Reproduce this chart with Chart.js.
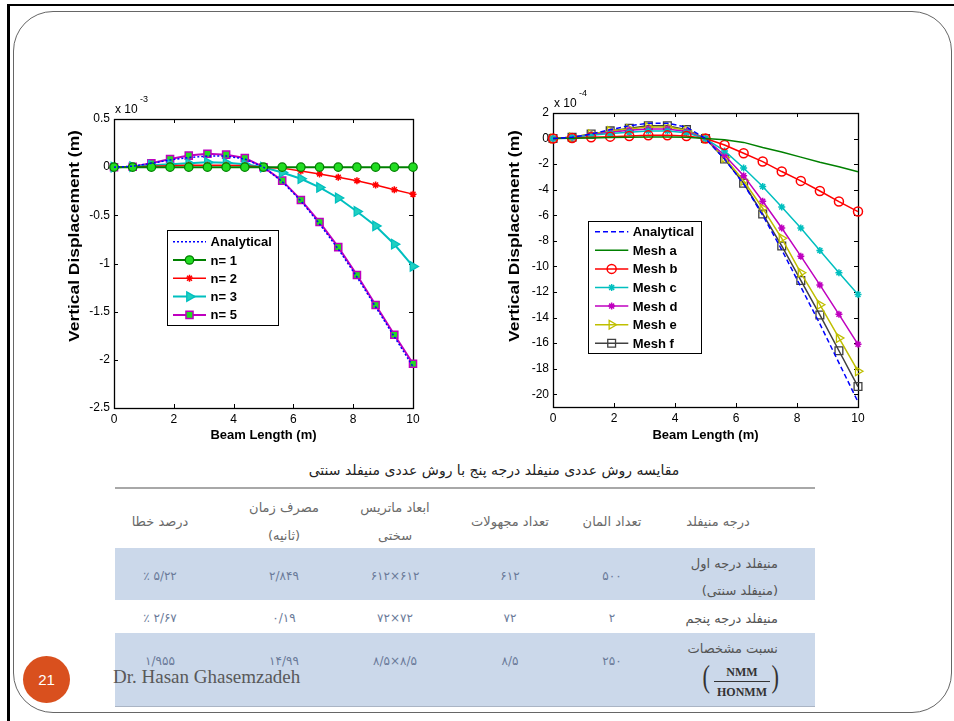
<!DOCTYPE html>
<html><head><meta charset="utf-8">
<script src="https://cdn.jsdelivr.net/npm/chart.js@4.4.1/dist/chart.umd.min.js"></script>
<style>
html,body{margin:0;padding:0;background:#fff;width:954px;height:721px;overflow:hidden;position:relative;font-family:'Liberation Sans',Arial,sans-serif;}
#frameL{position:absolute;left:7px;top:4px;width:3px;height:717px;background:#000;}
#frameT{position:absolute;left:7px;top:4px;width:947px;height:2px;background:#000;}
#slide{position:absolute;left:13px;top:11px;width:937px;height:700px;border:1px solid #666;border-radius:40px;}
canvas{position:absolute;}
#cL{left:55px;top:90px;}
#cR{left:495px;top:85px;}
.fa{position:absolute;font-family:'DejaVu Sans',sans-serif;white-space:nowrap;}
.band{position:absolute;left:115px;width:700px;background:#cbd8ea;}
#tline{position:absolute;left:115px;top:487px;width:700px;height:2px;background:#a8a8a8;}
#pg{position:absolute;left:23px;top:656px;width:47px;height:47px;border-radius:50%;background:#d9501e;color:#fff;font:15px 'Liberation Sans',Arial,sans-serif;text-align:center;line-height:47px;z-index:5;}
#auth{position:absolute;left:113px;top:667px;font:19px 'Liberation Serif','Times New Roman',serif;line-height:19px;color:#595959;z-index:5;white-space:nowrap;}
#frac{position:absolute;left:700px;top:662px;width:80px;height:40px;font-family:'Liberation Serif',serif;color:#333;}
</style></head>
<body>
<div id="frameL"></div><div id="frameT"></div><div id="slide"></div>
<canvas id="cL" width="375" height="360"></canvas>
<canvas id="cR" width="380" height="365"></canvas>
<div id="tline"></div>
<div class="band" style="top:548px;height:52px;"></div>
<div class="band" style="top:633px;height:73px;border-bottom:1px solid #aab4c4;"></div>
<div id="tbl"></div>
<div id="frac">
  <span style="position:absolute;left:1px;top:-4px;font-size:32px;font-weight:normal;transform:scaleX(0.7);">(</span>
  <span style="position:absolute;left:14px;top:3px;width:56px;text-align:center;font-size:12px;font-weight:bold;">NMM</span>
  <span style="position:absolute;left:14px;top:19px;width:56px;height:1px;background:#333;"></span>
  <span style="position:absolute;left:14px;top:23px;width:56px;text-align:center;font-size:12px;font-weight:bold;">HONMM</span>
  <span style="position:absolute;left:70px;top:-4px;font-size:32px;font-weight:normal;transform:scaleX(0.7);">)</span>
</div>
<div id="pg">21</div>
<div id="auth">Dr. Hasan Ghasemzadeh</div>
<script>
// ---------------- data ----------------
const beamX = [0,0.625,1.25,1.875,2.5,3.125,3.75,4.375,5,5.625,6.25,6.875,7.5,8.125,8.75,9.375,10];
const xTickValues = [0,2,4,6,8,10];

// left chart (x 10^-3 m)
const leftYTicks = [0.5,0,-0.5,-1,-1.5,-2,-2.5];
const leftAnalytical = [0,0.01,0.04,0.075,0.10,0.115,0.115,0.085,0,-0.15,-0.35,-0.59,-0.85,-1.14,-1.45,-1.76,-2.07];
const leftN1 = [0,0,0,0,0,0,0,0,0,0,0,0,0,0,0,0,0];
const leftN2 = [0,0.003,0.01,0.015,0.02,0.02,0.02,0.015,0,-0.01,-0.04,-0.07,-0.105,-0.14,-0.185,-0.235,-0.28];
const leftN3 = [0,0.005,0.02,0.03,0.04,0.05,0.045,0.03,0,-0.055,-0.12,-0.21,-0.32,-0.46,-0.61,-0.80,-1.03];
const leftN5 = [0,0.005,0.04,0.085,0.12,0.14,0.13,0.095,0,-0.14,-0.34,-0.57,-0.83,-1.12,-1.43,-1.74,-2.04];

// right chart (x 10^-4 m)
const rightYTicks = [2,0,-2,-4,-6,-8,-10,-12,-14,-16,-18,-20];
const rightAnalytical = [0,0.1,0.35,0.7,1.0,1.2,1.2,0.9,0,-1.6,-3.55,-6.0,-8.7,-11.6,-14.5,-17.55,-20.6];
const meshA = [0,0.02,0.05,0.08,0.1,0.12,0.12,0.1,0,-0.1,-0.3,-0.7,-1.05,-1.45,-1.85,-2.2,-2.6];
const meshB = [0,0.05,0.1,0.15,0.2,0.25,0.25,0.2,0,-0.5,-1.15,-1.8,-2.58,-3.31,-4.1,-4.93,-5.71];
const meshC = [0,0.1,0.25,0.4,0.5,0.6,0.6,0.45,0,-0.97,-2.3,-3.75,-5.35,-7.0,-8.75,-10.5,-12.2];
const meshD = [0,0.1,0.3,0.5,0.65,0.75,0.75,0.55,0,-1.3,-2.9,-4.9,-7.0,-9.2,-11.45,-13.75,-16.1];
const meshE = [0,0.1,0.35,0.6,0.75,0.9,0.9,0.65,0,-1.5,-3.3,-5.45,-7.8,-10.5,-13.0,-15.6,-18.2];
const meshF = [0,0.1,0.35,0.6,0.8,1.0,1.0,0.7,0,-1.6,-3.5,-5.9,-8.4,-11.1,-13.8,-16.6,-19.4];

// table
const tableTitle = "مقایسه روش عددی منیفلد درجه پنج با روش عددی منیفلد سنتی";
const headerCells = [["درجه منیفلد"],["تعداد المان"],["تعداد مجهولات"],["ابعاد ماتریس","سختی"],["مصرف زمان","(ثانیه)"],["درصد خطا"]];
const rowLabels = [["منیفلد درجه اول","(منیفلد سنتی)"],["منیفلد درجه پنجم"],["نسبت مشخصات"]];
const elementCounts = ["۵۰۰","۲","۲۵۰"];
const unknownCounts = ["۶۱۲","۷۲","۸/۵"];
const matrixSizes = ["۶۱۲×۶۱۲","۷۲×۷۲","۸/۵×۸/۵"];
const runTimes = ["۲/۸۴۹","۰/۱۹","۱۴/۹۹"];
const errorPercents = ["٪ ۵/۲۲","٪ ۲/۶۷","۱/۹۵۵"];

// ---------------- table drawing ----------------
const tbl = document.getElementById('tbl');
function addText(txt, cx, cy, opts) {
  const d = document.createElement('div');
  d.className = 'fa';
  d.textContent = txt;
  d.style.fontSize = (opts.size || 13) + 'px';
  d.style.color = opts.color || '#666';
  d.style.direction = opts.dir || 'rtl';
  d.style.lineHeight = '1';
  if (opts.right !== undefined) {
    d.style.right = (954 - opts.right) + 'px';
    d.style.top = cy + 'px';
    d.style.transform = 'translateY(-50%)';
  } else {
    d.style.left = cx + 'px';
    d.style.top = cy + 'px';
    d.style.transform = 'translate(-50%,-50%)';
  }
  tbl.appendChild(d);
}
addText(tableTitle, 494, 470, {size:14, color:'#222'});
const colX = [718, 612, 510, 395, 284, 160];
headerCells.forEach((lines, i) => {
  if (lines.length === 1) addText(lines[0], colX[i], 521, {size:13, color:'#6a6a6a'});
  else { addText(lines[0], colX[i], 507, {size:13, color:'#6a6a6a'}); addText(lines[1], colX[i], 535, {size:13, color:'#6a6a6a'}); }
});
const rowLabelY = [[563,590],[618],[648]];
rowLabels.forEach((lines, r) => lines.forEach((t, k) => addText(t, 0, rowLabelY[r][k], {size:13, color:'#555', right:778})));
const rowValY = [576, 618, 661];
const valCols = [elementCounts, unknownCounts, matrixSizes, runTimes, errorPercents];
valCols.forEach((col, c) => col.forEach((v, r) => addText(v, colX[c+1], rowValY[r], {size:12, color:'#6a7a99', dir:'ltr'})));

// ---------------- charts ----------------
const FONT = "'Liberation Sans', Arial, Helvetica, sans-serif";
const pts = ys => beamX.map((x, i) => ({x, y: ys[i]}));

function marker(ctx, ds, x, y) {
  if (!ds.pointStyle || ds.pointRadius === 0) return;
  ctx.save();
  ctx.setLineDash([]);
  ctx.fillStyle = ds.pointBackgroundColor;
  ctx.strokeStyle = ds.pointBorderColor;
  ctx.lineWidth = ds.pointBorderWidth;
  Chart.helpers.drawPoint(ctx, {pointStyle: ds.pointStyle, radius: ds.pointRadius, rotation: ds.pointRotation || 0, borderWidth: ds.pointBorderWidth}, x, y);
  ctx.restore();
}

const matlabPlugin = {
  id: 'matlab',
  beforeDatasetsDraw(chart) {
    const {ctx, chartArea: a, scales: {x, y}} = chart;
    ctx.save();
    ctx.strokeStyle = '#000';
    ctx.lineWidth = 1;
    ctx.beginPath();
    x.ticks.forEach(t => {
      const p = Math.round(x.getPixelForValue(t.value)) + 0.5;
      ctx.moveTo(p, a.bottom); ctx.lineTo(p, a.bottom - 4);
      ctx.moveTo(p, a.top); ctx.lineTo(p, a.top + 4);
    });
    y.ticks.forEach(t => {
      const p = Math.round(y.getPixelForValue(t.value)) + 0.5;
      ctx.moveTo(a.left, p); ctx.lineTo(a.left + 4, p);
      ctx.moveTo(a.right, p); ctx.lineTo(a.right - 4, p);
    });
    ctx.stroke();
    ctx.lineWidth = 1.3;
    ctx.strokeRect(Math.round(a.left) + 0.5, Math.round(a.top) + 0.5, Math.round(a.width), Math.round(a.height));
    ctx.restore();
  },
  afterDraw(chart, args, o) {
    const {ctx, chartArea: a} = chart;
    ctx.save();
    // y axis title (stretched along its length like the source image)
    ctx.save();
    ctx.translate(o.yTitle.cx, o.yTitle.cy);
    ctx.rotate(-Math.PI / 2);
    ctx.scale(o.yTitle.stretch, 1);
    ctx.fillStyle = '#000';
    ctx.font = 'bold 15px ' + FONT;
    ctx.textAlign = 'center';
    ctx.textBaseline = 'middle';
    ctx.fillText(chart.options.scales.y.title.text, 0, 0);
    ctx.restore();
    // exponent label
    ctx.fillStyle = '#000';
    ctx.textBaseline = 'middle';
    ctx.textAlign = 'left';
    ctx.font = '12px ' + FONT;
    ctx.fillText('x 10', a.left + 1, a.top - 9);
    ctx.font = '9px ' + FONT;
    ctx.fillText(o.exp, a.left + 26, a.top - 19);
    // legend
    const L = o.legend;
    ctx.fillStyle = '#fff';
    ctx.fillRect(L.x, L.y, L.w, L.h);
    ctx.strokeStyle = '#000';
    ctx.lineWidth = 1;
    ctx.strokeRect(Math.round(L.x) + 0.5, Math.round(L.y) + 0.5, Math.round(L.w), Math.round(L.h));
    chart.data.datasets.forEach((ds, i) => {
      const yy = L.row0 + i * L.rowH;
      ctx.save();
      ctx.strokeStyle = ds.borderColor;
      ctx.lineWidth = ds.borderWidth;
      ctx.setLineDash(ds.borderDash || []);
      ctx.beginPath(); ctx.moveTo(L.l0, yy); ctx.lineTo(L.l1, yy); ctx.stroke();
      ctx.restore();
      marker(ctx, ds, (L.l0 + L.l1) / 2, yy);
      ctx.fillStyle = '#000';
      ctx.font = 'bold 13px ' + FONT;
      ctx.textBaseline = 'middle';
      ctx.fillText(ds.label, L.tx, yy + 1);
    });
    ctx.restore();
  }
};

function ds(label, ys, o) {
  return Object.assign({
    label, data: pts(ys), borderWidth: 1.5, tension: 0, clip: false,
    pointRadius: 0, pointBorderWidth: 1.3, pointHoverRadius: 0
  }, o);
}

function buildChart(id, datasets, yTicks, yMin, yMax, fmt, opts) {
  return new Chart(document.getElementById(id), {
    type: 'line',
    data: {datasets},
    options: {
      responsive: false, animation: false, devicePixelRatio: 1,
      layout: {padding: {left: 0, top: opts.padTop, right: opts.padRight, bottom: 0}},
      plugins: {legend: {display: false}, tooltip: {enabled: false}, matlab: opts.matlab},
      events: [],
      scales: {
        x: {
          type: 'linear', min: 0, max: 10,
          afterBuildTicks: s => { s.ticks = xTickValues.map(v => ({value: v})); },
          afterFit: s => { s.height = opts.xH; },
          grid: {display: false, drawTicks: false, tickLength: 0},
          border: {display: false},
          ticks: {padding: 4, color: '#000', font: {family: FONT, size: 12}, maxRotation: 0, autoSkip: false, callback: v => String(v)},
          title: {display: true, text: 'Beam Length (m)', color: '#000', font: {family: FONT, size: 13, weight: 'bold'}, padding: {top: 0, bottom: 7}}
        },
        y: {
          type: 'linear', min: yMin, max: yMax,
          afterBuildTicks: s => { s.ticks = yTicks.map(v => ({value: v})); },
          afterFit: s => { s.width = opts.yW; },
          grid: {display: false, drawTicks: false, tickLength: 0},
          border: {display: false},
          ticks: {padding: 4, color: '#000', font: {family: FONT, size: 12}, autoSkip: false, callback: fmt},
          title: {display: false, text: 'Vertical Displacement (m)'}
        }
      }
    },
    plugins: [matlabPlugin]
  });
}

const BRIGHT_GREEN = '#22dd22';
buildChart('cL', [
  ds('Analytical', leftAnalytical, {borderColor: '#0000ff', borderDash: [2, 2], borderWidth: 1.5}),
  ds('n= 1', leftN1, {borderColor: '#008000', borderWidth: 2, pointStyle: 'circle', pointRadius: 4.2, pointBackgroundColor: BRIGHT_GREEN, pointBorderColor: '#008000'}),
  ds('n= 2', leftN2, {borderColor: '#ff0000', borderWidth: 1.5, pointStyle: 'star', pointRadius: 3.5, pointBackgroundColor: '#ff0000', pointBorderColor: '#ff0000', pointBorderWidth: 1.5}),
  ds('n= 3', leftN3, {borderColor: '#00bfbf', borderWidth: 2, pointStyle: 'triangle', pointRotation: 90, pointRadius: 5.5, pointBackgroundColor: '#20d0c0', pointBorderColor: '#00bfbf'}),
  ds('n= 5', leftN5, {borderColor: '#bf00bf', borderWidth: 2, pointStyle: 'rect', pointRadius: 5, pointBackgroundColor: BRIGHT_GREEN, pointBorderColor: '#bf00bf', pointBorderWidth: 1.5})
], leftYTicks, -2.5, 0.5, v => String(v), {
  padTop: 29, padRight: 17, xH: 42, yW: 59,
  matlab: {exp: '-3', yTitle: {cx: 20, cy: 146, stretch: 1.16},
           legend: {x: 111.7, y: 139.7, w: 110.6, h: 94.6, row0: 151.7, rowH: 18.3, l0: 118, l1: 151, tx: 155.5}}
});

buildChart('cR', [
  ds('Analytical', rightAnalytical, {borderColor: '#0000ff', borderDash: [5, 3], borderWidth: 1.5}),
  ds('Mesh a', meshA, {borderColor: '#008000', borderWidth: 1.5}),
  ds('Mesh b', meshB, {borderColor: '#ff0000', borderWidth: 1.5, pointStyle: 'circle', pointRadius: 4.5, pointBackgroundColor: 'rgba(0,0,0,0)', pointBorderColor: '#ff0000', pointBorderWidth: 1.5}),
  ds('Mesh c', meshC, {borderColor: '#00bfbf', borderWidth: 1.5, pointStyle: 'star', pointRadius: 3.5, pointBackgroundColor: '#00bfbf', pointBorderColor: '#00bfbf', pointBorderWidth: 1.5}),
  ds('Mesh d', meshD, {borderColor: '#bf00bf', borderWidth: 1.5, pointStyle: 'star', pointRadius: 3.5, pointBackgroundColor: '#bf00bf', pointBorderColor: '#bf00bf', pointBorderWidth: 1.5}),
  ds('Mesh e', meshE, {borderColor: '#bfbf00', borderWidth: 1.5, pointStyle: 'triangle', pointRotation: 90, pointRadius: 5, pointBackgroundColor: 'rgba(0,0,0,0)', pointBorderColor: '#bfbf00', pointBorderWidth: 1.3}),
  ds('Mesh f', meshF, {borderColor: '#404040', borderWidth: 1.5, pointStyle: 'rect', pointRadius: 5.5, pointBackgroundColor: 'rgba(0,0,0,0)', pointBorderColor: '#404040', pointBorderWidth: 1.3})
], rightYTicks, -21, 2, v => String(v), {
  padTop: 28, padRight: 17, xH: 43, yW: 58,
  matlab: {exp: '-4', yTitle: {cx: 20, cy: 151, stretch: 1.16},
           legend: {x: 93.3, y: 136, w: 113.4, h: 132.3, row0: 146.7, rowH: 18.6, l0: 100, l1: 133.3, tx: 137.7}}
});
</script>
</body></html>
